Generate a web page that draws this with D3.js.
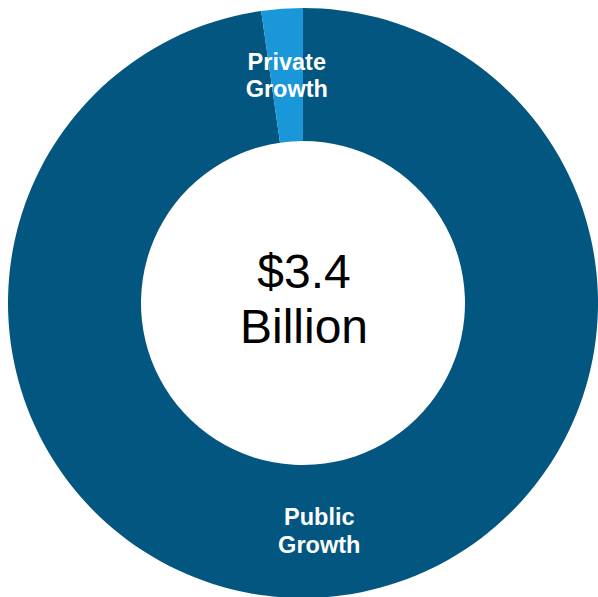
<!DOCTYPE html>
<html>
<head>
<meta charset="utf-8">
<script src="https://cdn.jsdelivr.net/npm/d3@7"></script>
<style>
  html, body { margin: 0; padding: 0; background: #fff; }
  svg { display: block; }
</style>
</head>
<body>
<svg id="chart" width="598" height="597"></svg>
<script>
// Growth by source, in billions of dollars
const categories = ["Public Growth", "Private Growth"];
const values = [3.323, 0.077];
const colors = ["#02567f", "#1997d9"];
const labelLines = [["Public", "Growth"], ["Private", "Growth"]];
const centerLines = ["$3.4", "Billion"];

const svg = d3.select("#chart");
const cx = 303, cy = 303;
const outerR = 295, innerR = 162;

const g = svg.append("g").attr("transform", `translate(${cx},${cy})`);

const pie = d3.pie().sort(null).value(d => d.value);
const arcs = pie(categories.map((c, i) => ({ name: c, value: values[i], color: colors[i], lines: labelLines[i] })));
const arc = d3.arc().innerRadius(innerR).outerRadius(outerR);

g.selectAll("path.slice")
  .data(arcs)
  .join("path")
  .attr("class", "slice")
  .attr("d", arc)
  .attr("fill", d => d.data.color);

// slice labels at the ring centroid
const labels = g.selectAll("text.label")
  .data(arcs)
  .join("text")
  .attr("class", "label")
  .attr("transform", d => `translate(${arc.centroid(d)})`)
  .attr("text-anchor", "middle")
  .attr("fill", "#fff")
  .attr("font-family", "'Liberation Sans', Arial, sans-serif")
  .attr("font-weight", "bold")
  .attr("font-size", 23.5);

labels.selectAll("tspan")
  .data(d => d.data.lines)
  .join("tspan")
  .attr("x", 0)
  .attr("y", (d, i) => -5.5 + i * 27.5)
  .text(d => d);

// total in the hole
g.append("text")
  .attr("text-anchor", "middle")
  .attr("fill", "#000")
  .attr("font-family", "'Liberation Sans', Arial, sans-serif")
  .attr("font-size", 48)
  .selectAll("tspan")
  .data(centerLines)
  .join("tspan")
  .attr("x", 1)
  .attr("y", (d, i) => -15.3 + i * 55.6)
  .text(d => d);
</script>
</body>
</html>
